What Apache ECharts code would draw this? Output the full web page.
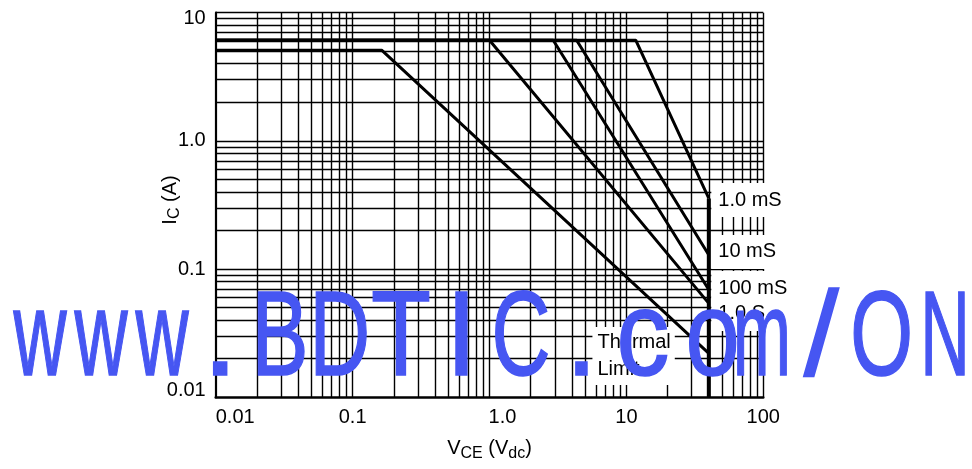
<!DOCTYPE html>
<html><head><meta charset="utf-8">
<script src="https://cdn.jsdelivr.net/npm/echarts@6/dist/echarts.min.js"></script>
<style>html,body{margin:0;padding:0;background:#fff}#c{width:972px;height:469px}</style>
</head><body><div id="c"></div>
<script>
// ---- data ----
const xTickLabels = ['0.01', '0.1', '1.0', '10', '100'];
const yTickLabels = ['0.01', '0.1', '1.0', '10'];
const xDecades = [0.01, 0.1, 1, 10];
const yDecades = [0.01, 0.1, 1];
const gridMultiples = [1, 2, 3, 4, 5, 6, 7, 8, 9];

const pulse1ms   = [[0.01, 6.1], [11.7, 6.1], [40, 0.356]];
const pulse10ms  = [[0.01, 6.1], [4.33, 6.1], [40, 0.129]];
const pulse100ms = [[0.01, 6.1], [2.92, 6.1], [40, 0.069]];
const pulse1s    = [[0.01, 6.1], [1.0, 6.1], [40, 0.054]];
const thermalLimit = [[0.01, 5.1], [0.163, 5.1], [40, 0.022]];
const vceLimit   = [[40, 0.356], [40, 0.01]];

const curveLabelNames = ['1.0 mS', '10 mS', '100 mS', '1.0 S'];
const curveLabelCurrents = [0.346, 0.136, 0.0712, 0.0447];
const curveLabelVoltage = 40;
const thermalLabel = ['Thermal\nLimit', 5.6, 0.021];

const watermark = 'www.BDTIC.com/ON';
const wmCenters = [40, 101, 162, 220.5, 281, 341, 401, 461.5, 521.5, 581.5, 644, 713, 762, 821.5, 881.5, 945];
const wmWidths  = [55, 55, 55, 15, 48, 52, 58, 13, 53, 13, 48, 48, 50, 37, 57, 40];

// ---- chart ----
const FONT = '"Liberation Sans", Arial, Helvetica, sans-serif';
const xGrid = [], yGrid = [];
xDecades.forEach(d => gridMultiples.forEach(m => { const v = +(d * m).toPrecision(6); if (v > 0.01) xGrid.push(v); }));
xGrid.push(100);
yDecades.forEach(d => gridMultiples.forEach(m => { const v = +(d * m).toPrecision(6); if (v > 0.01) yGrid.push(v); }));
yGrid.push(10);

const nameRich = {
  a: { fontSize: 20, fontFamily: FONT, color: '#000' },
  b: { fontSize: 16, fontFamily: FONT, color: '#000', padding: [9, 0, 0, 0] }
};
const tickFont = { fontSize: 20, fontFamily: FONT, color: '#000' };

function lineSeries(name, data, width) {
  return { name, type: 'line', data, symbol: 'none', silent: true, z: 3,
    lineStyle: { color: '#000', width }, animation: false };
}

const wmFont = '121px "Liberation Sans", Arial, sans-serif';
const wmStroke = 1.5;
const ctx = document.createElement('canvas').getContext('2d');
ctx.font = wmFont;
const wmGraphics = watermark.split('').map((ch, i) => {
  const m = ctx.measureText(ch);
  const l = m.actualBoundingBoxLeft + wmStroke / 2, r = m.actualBoundingBoxRight + wmStroke / 2;
  const s = wmWidths[i] / (l + r);
  return { type: 'text', x: wmCenters[i] - s * (r - l) / 2, y: 342, scaleX: s, z: 100, silent: true,
    style: { text: ch, font: wmFont, fill: '#4656f2', stroke: '#4656f2', lineWidth: wmStroke,
      textAlign: 'left', align: 'left', textVerticalAlign: 'middle', verticalAlign: 'middle' } };
});

const chart = echarts.init(document.getElementById('c'));
chart.setOption({
  animation: false,
  grid: { left: 215.7, right: 208.7, top: 12.7, bottom: 71.7 },
  xAxis: {
    type: 'log', logBase: 10, min: 0.01, max: 100,
    axisLine: { show: true, onZero: false, lineStyle: { color: '#000', width: 2.5 } },
    axisTick: { show: false }, splitLine: { show: false },
    axisLabel: Object.assign({
      margin: 10, alignMinLabel: 'left',
      formatter: v => { const t = xTickLabels[Math.round(Math.log10(v)) + 2]; return t === '1.0' ? '{s|1.0}' : t; },
      rich: { s: Object.assign({ padding: [0, 0, 0, 26] }, tickFont) }
    }, tickFont),
    name: '{a|V}{b|CE}{a| (V}{b|dc}{a|)}', nameLocation: 'middle', nameGap: 39, nameMoveOverlap: false,
    nameTextStyle: { rich: nameRich }
  },
  yAxis: {
    type: 'log', logBase: 10, min: 0.01, max: 10,
    axisLine: { show: true, onZero: false, lineStyle: { color: '#000', width: 2.2 } },
    axisTick: { show: false }, splitLine: { show: false },
    axisLabel: Object.assign({
      margin: 10,
      formatter: v => {
        const t = yTickLabels[Math.round(Math.log10(v)) + 2];
        if (t === '10') return '{top|10}';
        if (t === '0.01') return '{bot|0.01}';
        return t;
      },
      rich: {
        top: Object.assign({ padding: [11, 0, 0, 0] }, tickFont),
        bot: Object.assign({ padding: [0, 0, 14, 0] }, tickFont)
      }
    }, tickFont),
    name: '{a|I}{b|C}{a| (A)}', nameLocation: 'middle', nameGap: 33, nameMoveOverlap: false,
    nameTextStyle: { rich: nameRich, padding: [0, 0, 0, 10] }
  },
  series: [
    { type: 'line', data: [], silent: true, z: 1,
      markLine: { silent: true, symbol: ['none', 'none'], z: 1, animation: false,
        label: { show: false }, emphasis: { disabled: true },
        lineStyle: { color: '#000', width: 1.4, type: 'solid' },
        data: [...xGrid.map(v => ({ xAxis: v })), ...yGrid.map(v => ({ yAxis: v }))] } },
    lineSeries('Thermal Limit', thermalLimit, 3),
    lineSeries('1.0 S', pulse1s, 3),
    lineSeries('100 mS', pulse100ms, 3),
    lineSeries('10 mS', pulse10ms, 3),
    lineSeries('1.0 mS', pulse1ms, 3),
    lineSeries('VCE limit', vceLimit, 4),
    { type: 'scatter', silent: true, z: 8, symbolSize: 1, itemStyle: { color: 'rgba(0,0,0,0)', opacity: 1 },
      data: curveLabelNames.map((n, i) => [curveLabelVoltage, curveLabelCurrents[i], n]),
      label: { show: true, position: 'right', distance: 2, formatter: p => p.data[2], opacity: 1,
        backgroundColor: '#fff', padding: [7, 6, 7, 7], fontSize: 20, lineHeight: 20,
        fontFamily: FONT, color: '#000' } },
    { type: 'scatter', silent: true, z: 8, symbolSize: 1, itemStyle: { color: 'rgba(0,0,0,0)', opacity: 1 },
      data: [[thermalLabel[1], thermalLabel[2], thermalLabel[0]]],
      label: { show: true, position: 'right', distance: 0, formatter: p => p.data[2], opacity: 1,
        backgroundColor: '#fff', padding: [2, 4, 2, 5], fontSize: 20, lineHeight: 27,
        fontFamily: FONT, color: '#000' } }
  ],
  graphic: wmGraphics
});
</script></body></html>
